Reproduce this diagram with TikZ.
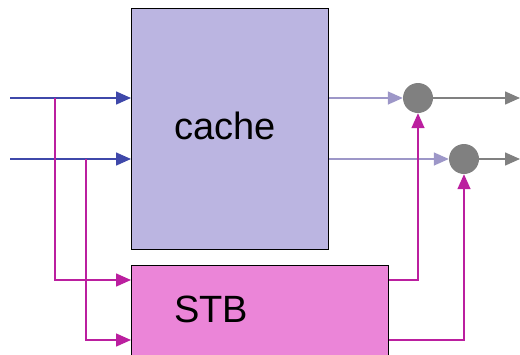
\documentclass[tikz,border=0pt]{standalone}
\usepackage{fontspec}
\setmainfont{Liberation Sans}
\usetikzlibrary{arrows.meta}
\definecolor{inblue}{HTML}{3F48AA}
\definecolor{cachefill}{HTML}{BBB5E1}
\definecolor{outlav}{HTML}{9D97C8}
\definecolor{stbline}{HTML}{BB1F9F}
\definecolor{stbfill}{HTML}{EB85D8}
\definecolor{joingray}{HTML}{808080}
\tikzset{
  tip/.style={-{Triangle[length=15pt,width=13pt]}},
  inwire/.style={tip, draw=inblue, line width=1.5pt},
  ctlwire/.style={tip, draw=stbline, line width=1.5pt},
  outwire/.style={tip, draw=outlav, line width=1.5pt},
  resultwire/.style={tip, draw=joingray, line width=1.5pt},
  block/.style={draw=black, line width=1.3pt, anchor=north west, inner sep=0pt},
  joint/.style={circle, fill=joingray, minimum size=30pt, inner sep=0pt},
  label/.style={font=\fontsize{38}{42}\selectfont, inner sep=0pt}
}
\begin{document}
\begin{tikzpicture}[x=1pt,y=-1pt]
\useasboundingbox (0,0) rectangle (520,354);
\clip (0,0) rectangle (520,354);

% functional blocks
\node[block, fill=cachefill, minimum width=197pt, minimum height=241pt] (cache) at (131,8) {};
\node[block, fill=stbfill, minimum width=257pt, minimum height=120pt] (stb) at (131,265) {};
\node[label] (cachetxt) at (225,126) {cache};
\node[label] (stbtxt) at (211,309) {STB};

% merge points
\node[joint] (m1) at (418,98) {};
\node[joint] (m2) at (464,159) {};

% input and branch points
\coordinate (in1) at (10,98);
\coordinate (in2) at (10,159);
\coordinate (j1) at (55,98);
\coordinate (j2) at (86,159);
\coordinate (s1) at (0,280);
\coordinate (s2) at (0,340);
\coordinate (o1) at (520,98);
\coordinate (o2) at (520,159);

% address inputs to the cache
\draw[inwire] (in1) -- (in1 -| cache.west);
\draw[inwire] (in2) -- (in2 -| cache.west);

% the same inputs also feed the STB
\draw[ctlwire] (j1) |- (s1 -| stb.west);
\draw[ctlwire] (j2) |- (s2 -| stb.west);

% cache outputs into the merge points
\draw[outwire] (in1 -| cache.east) -- (m1.west);
\draw[outwire] (in2 -| cache.east) -- (m2.west);

% STB outputs into the merge points
\draw[ctlwire] (s1 -| stb.east) -| (m1.south);
\draw[ctlwire] (s2 -| stb.east) -| (m2.south);

% merged results
\draw[resultwire] (m1.east) -- (o1);
\draw[resultwire] (m2.east) -- (o2);
\end{tikzpicture}
\end{document}
